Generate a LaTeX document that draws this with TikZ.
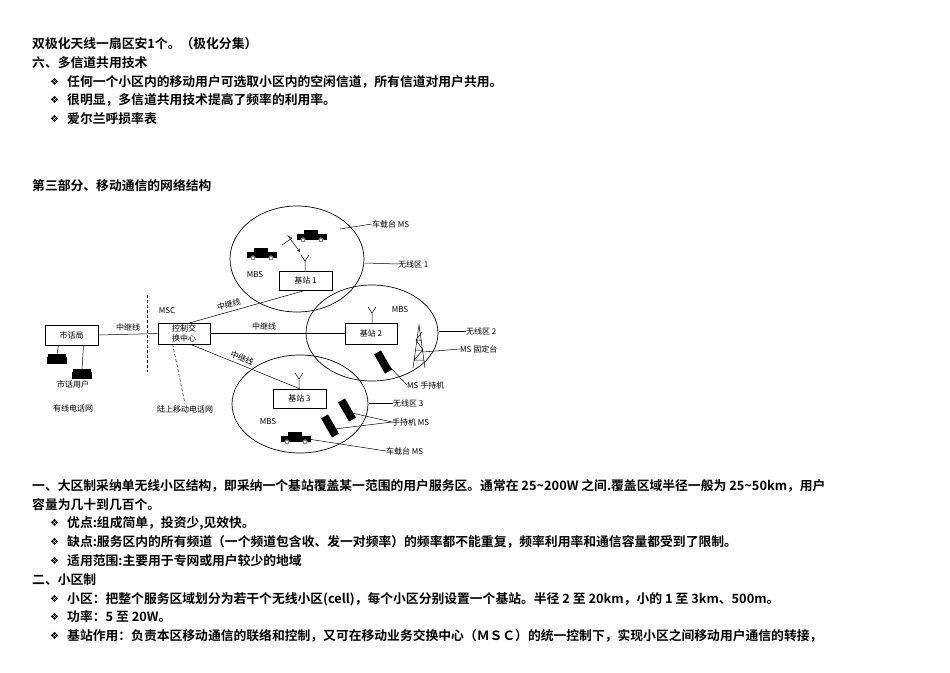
\documentclass[tikz,border=0pt]{standalone}
\usepackage{fontspec}
\newfontfamily\cjk{Noto Sans CJK SC Bold}
\newfontfamily\cjkl{Noto Sans CJK SC}
\newfontfamily\dv{DejaVu Sans}
\setmainfont{Liberation Serif}
\begin{document}
\begin{tikzpicture}[x=1pt,y=-1pt,
  txt/.style={anchor=west,inner sep=0pt,font=\cjk\fontsize{12.8}{14}\selectfont},
  bul/.style={anchor=west,inner sep=0pt,font=\dv\fontsize{10}{12}\selectfont},
  box/.style={draw,line width=0.6pt,inner sep=0pt,font=\cjkl\fontsize{8}{9.5}\selectfont,align=center},
  lab/.style={inner sep=0pt,font=\cjkl\fontsize{8}{9}\selectfont},
  cell/.style={draw,line width=0.7pt},
  ln/.style={line width=0.5pt}]
\useasboundingbox (0,0) rectangle (950,672);
% top text
\node[txt] (t1) at (32,44) {双极化天线一扇区安1个。（极化分集）};
\node[txt] (t2) at (32,63) {六、多信道共用技术};
\foreach \y/\s [count=\i] in {82/{任何一个小区内的移动用户可选取小区内的空闲信道，所有信道对用户共用。},100/{很明显，多信道共用技术提高了频率的利用率。},119/{爱尔兰呼损率表}}{
  \node[bul] (b\i) at (50,\y) {❖};
  \node[txt] (bt\i) at (67,\y) {\s};}
\node[txt] (t3) at (32,186) {第三部分、移动通信的网络结构};
% cells
\draw[cell] (297,259) ellipse (67 and 53);
\draw[cell] (372,333) ellipse (66 and 48);
\draw[cell] (300,404) ellipse (68 and 49);
% boxes
\node[box,minimum width=53,minimum height=20] (shj) at (71.5,335) {市话局};
\node[box,minimum width=52,minimum height=21] (msc) at (184,333.5) {控制交\\换中心};
\node[box,minimum width=53,minimum height=19] (bs1) at (305.5,280.5) {基站 1};
\node[box,minimum width=52,minimum height=21] (bs2) at (371,333.5) {基站 2};
\node[box,minimum width=53,minimum height=19] (bs3) at (299.5,398.5) {基站 3};
% trunk lines
\draw[ln] (shj.east) -- node[lab,above=3pt] {中继线} (msc.west);
\draw[ln] (msc.east) -- node[lab,above=3pt,pos=0.4] {中继线} (bs2.west);
\draw[ln] (msc.north east) ++(-20,0) coordinate (m1) -- node[lab,above=3pt,sloped,pos=0.35] {中继线} (bs1.south);
\draw[ln] (msc.south east) ++(-20,0) coordinate (m2) -- node[lab,above=3pt,sloped,pos=0.45] {中继线} (bs3.north);
\draw[ln,densely dashed] (147,295) coordinate (d1) -- (147,372) coordinate (d2);
\draw[ln,densely dashed] (msc.south west) ++(15,0) coordinate (m3) -- (185,404) coordinate (m4);
\node[lab] (mscl) at (167,311) {MSC};
\node[lab] (lsy) at (185,409) {陆上移动电话网};
\node[lab] (shyh) at (73,384) {市话用户};
\node[lab] (yxdh) at (73,408) {有线电话网};
% telephones
\foreach \n/\x/\y in {p1/57/360,p2/82/375}{
  \fill (\x-10,\y-3) rectangle (\x+10,\y+4);
  \fill (\x-9,\y-6) rectangle (\x+9,\y-3);
  \coordinate (\n) at (\x,\y-6);}
\draw[ln] (shj.south) ++(-13,0) -- (p1);
\draw[ln] (shj.south) ++(12,0) -- (p2);
% antennas
\foreach \n/\x/\y in {a1/305/271,a2/372/323,a3/299/389}{
  \coordinate (\n) at (\x,\y-14);
  \draw[ln] (\x,\y) -- (\x,\y-10) (\x-4,\y-16) -- (\x,\y-10) -- (\x+4,\y-16);}
\draw[ln,->,>=stealth] (282,245) -- (292,238) -- (288,236) -- (300,252);
\node[lab] (mbs1) at (255,275) {MBS};
\node[lab] (mbs2) at (400,310) {MBS};
\node[lab] (mbs3) at (268,422) {MBS};
% cars
\foreach \n/\x/\y in {c1/262/255,c2/312/237,c3/296/439}{
  \fill (\x-15,\y-3) rectangle (\x+15,\y+3);
  \fill (\x-8,\y-7) rectangle (\x+6,\y-3);
  \fill[white] (\x-9,\y+3) circle (2.5) (\x+9,\y+3) circle (2.5);
  \draw (\x-9,\y+3) circle (2) (\x+9,\y+3) circle (2);
  \coordinate (\n) at (\x+12,\y);}
% phones
\foreach \n/\x/\y in {h1/383/362,h2/347/410,h3/330/426}{
  \fill[rotate around={30:(\x,\y)}] (\x-4,\y-11) rectangle (\x+4,\y+11);
  \coordinate (\n) at (\x+5,\y+3);}
% tower
\draw[ln] (413,368) -- (419,325) -- (425,368) (414,360) -- (424,360) (415,350) -- (423,350) (416,340) -- (422,340) (414,360) -- (423,350) -- (416,340) -- (422,332);
\coordinate (tw) at (423,352);
% right labels
\node[lab,anchor=west] (l1) at (372,224) {车载台 MS};
\draw[ln] (340,229) -- (l1.west);
\node[lab,anchor=west] (l2) at (398,264) {无线区 1};
\draw[ln] (365,263) -- (l2.west);
\node[lab,anchor=west] (l3) at (466,331) {无线区 2};
\draw[ln] (439,331) -- (l3.west);
\node[lab,anchor=west] (l4) at (460,349) {MS 固定台};
\draw[ln] (tw) -- (l4.west);
\node[lab,anchor=west] (l5) at (407,385) {MS 手持机};
\draw[ln] (h1) -- (l5.west);
\node[lab,anchor=west] (l6) at (393,403) {无线区 3};
\draw[ln] (369,403) -- (l6.west);
\node[lab,anchor=west] (l7) at (392,422) {手持机 MS};
\draw[ln] (h2) -- (l7.west) -- (h3);
\node[lab,anchor=west] (l8) at (386,451) {车载台 MS};
\draw[ln] (c3) -- (l8.west);
% bottom text
\node[txt] (u1) at (32,486) {一、大区制采纳单无线小区结构，即采纳一个基站覆盖某一范围的用户服务区。通常在 25\textasciitilde 200W 之间.覆盖区域半径一般为 25\textasciitilde 50km，用户};
\node[txt] (u2) at (32,505) {容量为几十到几百个。};
\foreach \y/\s [count=\i] in {523/{优点:组成简单，投资少,见效快。},542/{缺点:服务区内的所有频道（一个频道包含收、发一对频率）的频率都不能重复，频率利用率和通信容量都受到了限制。},561/{适用范围:主要用于专网或用户较少的地域}}{
  \node[bul] (c\i) at (50,\y) {❖};
  \node[txt] (ct\i) at (67,\y) {\s};}
\node[txt] (u3) at (32,580) {二、小区制};
\foreach \y/\s [count=\i] in {599/{小区：把整个服务区域划分为若干个无线小区(cell)，每个小区分别设置一个基站。半径 2 至 20km，小的 1 至 3km、500m。},617/{功率：5 至 20W。},636/{基站作用：负责本区移动通信的联络和控制，又可在移动业务交换中心（ＭＳＣ）的统一控制下，实现小区之间移动用户通信的转接，}}{
  \node[bul] (d\i) at (50,\y) {❖};
  \node[txt] (dt\i) at (67,\y) {\s};}
\end{tikzpicture}
\end{document}
